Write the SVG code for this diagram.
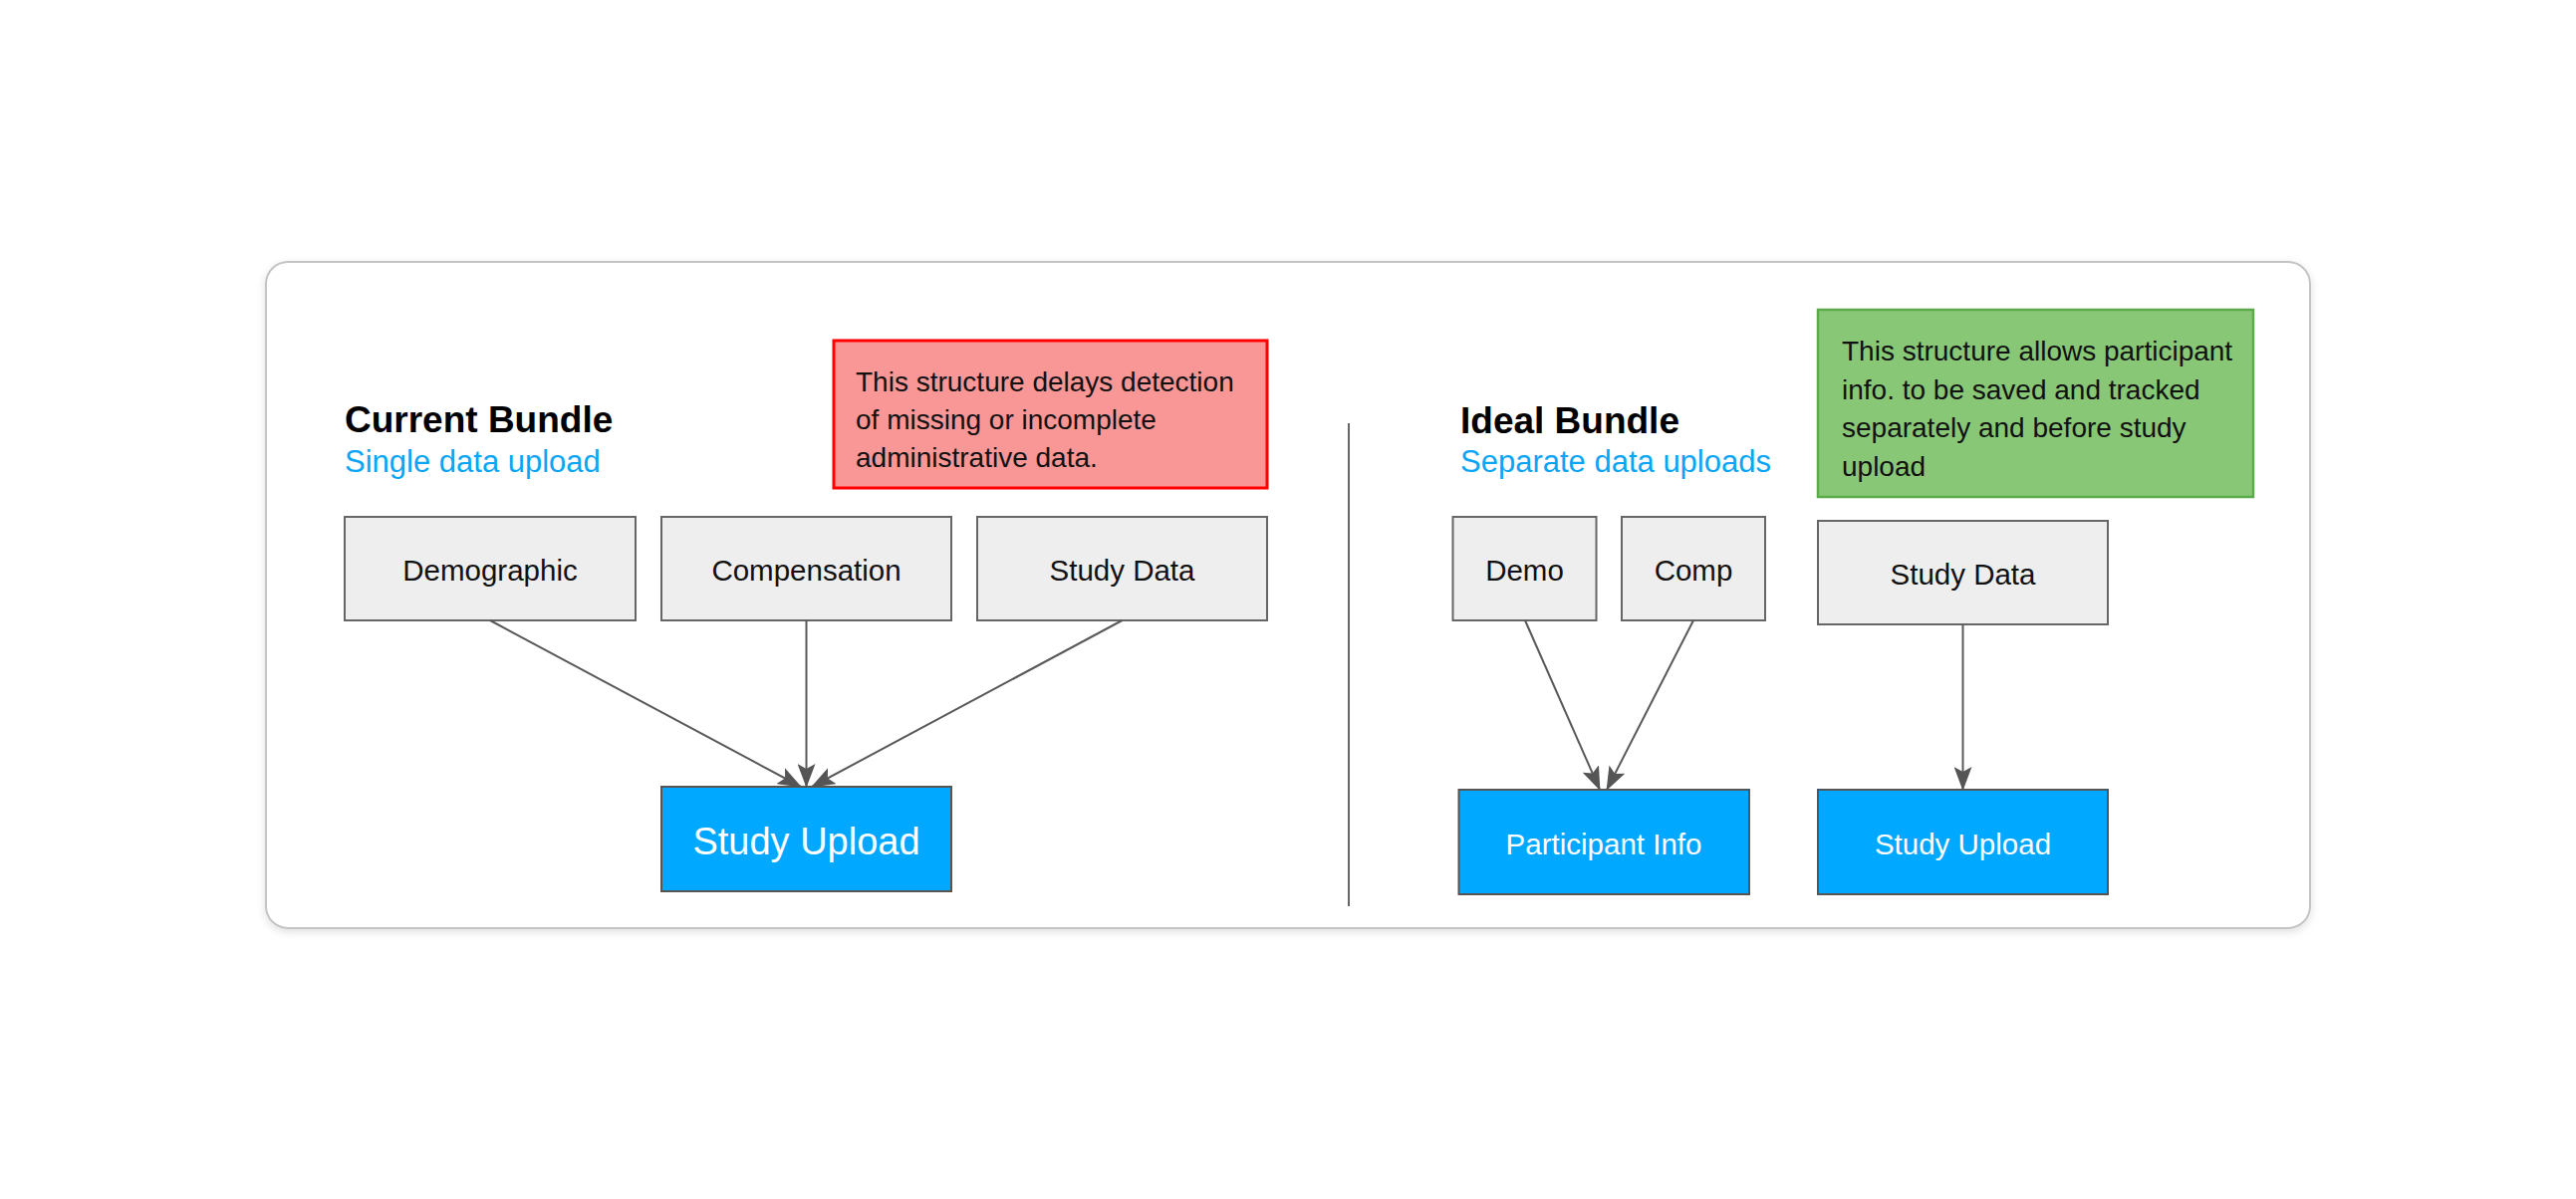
<svg xmlns="http://www.w3.org/2000/svg" width="2586" height="1204" viewBox="0 0 2586 1204">
<style>
  text { font-family: "Liberation Sans", Arial, sans-serif; }
  .title { font-size: 37px; font-weight: bold; fill: #000; }
  .sub { font-size: 31px; fill: #0aa5f5; }
  .note { font-size: 28px; fill: #111; }
  .box { fill: #eeeeee; stroke: #666; stroke-width: 2; }
  .blue { fill: #00a8ff; stroke: #555; stroke-width: 2; }
  .lbl { font-size: 29.5px; fill: #111; text-anchor: middle; }
  .wlbl { fill: #fff; text-anchor: middle; }
  .conn { stroke: #595959; stroke-width: 2; fill: none; marker-end: url(#arr); }
</style>
<defs>
  <marker id="arr" markerUnits="userSpaceOnUse" markerWidth="24" markerHeight="18" viewBox="0 0 24 18" refX="23" refY="9" orient="auto">
    <path d="M0,0 L24,9 L0,18 L5,9 Z" fill="#555"/>
  </marker>
  <filter id="sh" x="-5%" y="-5%" width="110%" height="115%">
    <feDropShadow dx="0" dy="3" stdDeviation="4" flood-color="#000" flood-opacity="0.12"/>
  </filter>
</defs>
<rect width="2586" height="1204" fill="#fff"/>
<g id="frame">
  <rect x="267" y="263" width="2052" height="669" rx="22" ry="22" fill="#fff" stroke="#c4c4c4" stroke-width="2" filter="url(#sh)"/>
  <line x1="1354" y1="425" x2="1354" y2="910" stroke="#666" stroke-width="2"/>
</g>
<g id="current-header">
  <text class="title" x="346" y="433.5">Current Bundle</text>
  <text class="sub" x="346" y="473.5">Single data upload</text>
</g>
<g id="ideal-header">
  <text class="title" x="1466" y="434.5">Ideal Bundle</text>
  <text class="sub" x="1466" y="473.5">Separate data uploads</text>
</g>
<g id="note-red">
  <rect x="837" y="342" width="435" height="148" fill="#f99696" stroke="#ff0000" stroke-width="3"/>
  <text class="note" x="859" y="393">This structure delays detection</text>
  <text class="note" x="859" y="431">of missing or incomplete</text>
  <text class="note" x="859" y="469">administrative data.</text>
</g>
<g id="note-green">
  <rect x="1825" y="311" width="437" height="188" fill="#88c776" stroke="#5cab4b" stroke-width="2.5"/>
  <text class="note" x="1849" y="362">This structure allows participant</text>
  <text class="note" x="1849" y="400.5">info. to be saved and tracked</text>
  <text class="note" x="1849" y="439">separately and before study</text>
  <text class="note" x="1849" y="478">upload</text>
</g>
<g id="demographic">
  <rect class="box" x="346" y="519" width="292" height="104"/>
  <text class="lbl" x="492" y="582.5">Demographic</text>
</g>
<g id="compensation">
  <rect class="box" x="664" y="519" width="291" height="104"/>
  <text class="lbl" x="809.5" y="582.5">Compensation</text>
</g>
<g id="study-data-left">
  <rect class="box" x="981" y="519" width="291" height="104"/>
  <text class="lbl" x="1126.5" y="582.5">Study Data</text>
</g>
<g id="study-upload-left">
  <rect class="blue" x="664" y="790" width="291" height="105"/>
  <text class="wlbl" x="809.5" y="857.5" font-size="38">Study Upload</text>
</g>
<g id="demo">
  <rect class="box" x="1458.5" y="519" width="144" height="104"/>
  <text class="lbl" x="1530.5" y="582.5">Demo</text>
</g>
<g id="comp">
  <rect class="box" x="1628" y="519" width="144" height="104"/>
  <text class="lbl" x="1700" y="582.5">Comp</text>
</g>
<g id="study-data-right">
  <rect class="box" x="1825" y="523" width="291" height="104"/>
  <text class="lbl" x="1970.5" y="586.5">Study Data</text>
</g>
<g id="participant-info">
  <rect class="blue" x="1464.5" y="793" width="291.5" height="105"/>
  <text class="wlbl" x="1610" y="858" font-size="29.5">Participant Info</text>
</g>
<g id="study-upload-right">
  <rect class="blue" x="1825" y="793" width="291" height="105"/>
  <text class="wlbl" x="1970.5" y="858" font-size="29.5">Study Upload</text>
</g>
<g id="connectors">
  <line class="conn" x1="492" y1="623" x2="804" y2="790"/>
  <line class="conn" x1="809.5" y1="623" x2="809.5" y2="790"/>
  <line class="conn" x1="1126.5" y1="623" x2="815" y2="790"/>
  <line class="conn" x1="1531" y1="623" x2="1606" y2="793"/>
  <line class="conn" x1="1700" y1="623" x2="1613" y2="793"/>
  <line class="conn" x1="1970.5" y1="627" x2="1970.5" y2="793"/>
</g>
</svg>
